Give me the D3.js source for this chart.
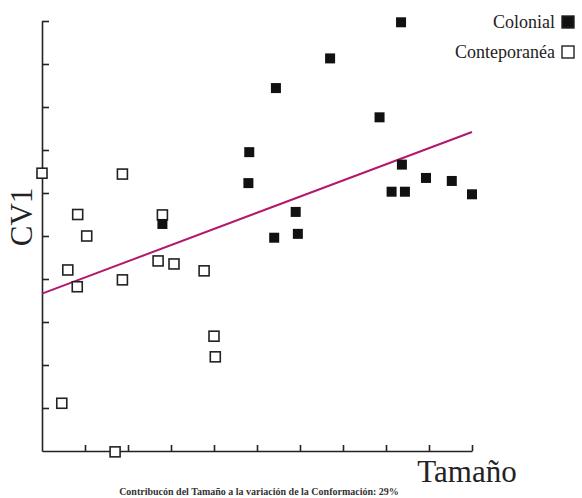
<!DOCTYPE html>
<html>
<head>
<meta charset="utf-8">
<script src="https://d3js.org/d3.v7.min.js"></script>
<style>
    body { margin: 0; background: #fff; }
    text { font-family: "Liberation Serif", "DejaVu Serif", serif; fill: #222; }
</style>
</head>
<body>
<svg id="chart" width="582" height="498"></svg>
<script>
    // values (axis units 0..10)
    var colonialX = [8.35, 6.7, 5.44, 7.85, 4.82, 4.8, 8.37, 8.93, 9.53, 10.0, 8.13, 8.44, 5.9, 5.95, 5.4, 2.8];
    var colonialY = [9.97, 9.13, 8.44, 7.76, 6.95, 6.23, 6.66, 6.35, 6.28, 5.97, 6.03, 6.03, 5.56, 5.05, 4.96, 5.28];
    var contempX = [0.0, 1.87, 0.83, 1.04, 2.8, 0.6, 0.82, 1.87, 2.7, 3.07, 3.77, 4.0, 4.03, 0.46, 1.7];
    var contempY = [6.46, 6.44, 5.5, 5.0, 5.49, 4.21, 3.82, 3.98, 4.42, 4.35, 4.19, 2.67, 2.19, 1.11, -0.02];
    var trendX = [0, 10];
    var trendY = [3.66, 7.42];
    var tickVals = [1, 2, 3, 4, 5, 6, 7, 8, 9, 10];
    var legendLabels = ["Colonial", "Conteporanéa"];

    var svg = d3.select("#chart");
    var x = d3.scaleLinear().domain([0, 10]).range([42, 472]);
    var y = d3.scaleLinear().domain([0, 10]).range([451, 21]);

    var xAxis = svg.append("g")
        .attr("transform", "translate(0,451)")
        .call(d3.axisBottom(x).tickValues(tickVals).tickSizeInner(-6).tickSizeOuter(0).tickFormat(""));
    var yAxis = svg.append("g")
        .attr("transform", "translate(42,0)")
        .call(d3.axisLeft(y).tickValues(tickVals).tickSizeInner(-7).tickSizeOuter(0).tickFormat(""));
    svg.selectAll(".domain, .tick line").attr("stroke", "#222").attr("stroke-width", 1.6);

    // regression line
    svg.append("line")
        .attr("x1", x(trendX[0])).attr("y1", y(trendY[0]))
        .attr("x2", x(trendX[1])).attr("y2", y(trendY[1]))
        .attr("stroke", "#b3186b").attr("stroke-width", 2);

    var s = 10;
    svg.append("g").selectAll("rect").data(contempX).enter().append("rect")
        .attr("x", function (d) { return x(d) - s / 2; })
        .attr("y", function (d, i) { return y(contempY[i]) - s / 2; })
        .attr("width", s).attr("height", s)
        .attr("fill", "#fff").attr("stroke", "#222").attr("stroke-width", 1.6);

    svg.append("g").selectAll("rect").data(colonialX).enter().append("rect")
        .attr("x", function (d) { return x(d) - s / 2; })
        .attr("y", function (d, i) { return y(colonialY[i]) - s / 2; })
        .attr("width", s).attr("height", s)
        .attr("fill", "#111");

    // legend
    var leg = svg.append("g").selectAll("g").data(legendLabels).enter().append("g")
        .attr("transform", function (d, i) { return "translate(0," + (22 + i * 30) + ")"; });
    leg.append("text")
        .attr("x", 555).attr("y", 6)
        .attr("text-anchor", "end")
        .style("font-size", "18px")
        .text(function (d) { return d; });
    leg.append("rect")
        .attr("x", 562).attr("y", -6).attr("width", 12).attr("height", 12)
        .attr("fill", function (d, i) { return i == 0 ? "#111" : "#fff"; })
        .attr("stroke", "#222").attr("stroke-width", 1.4);

    // axis titles
    svg.append("text")
        .attr("transform", "translate(32,217) rotate(-90)")
        .attr("text-anchor", "middle")
        .style("font-size", "31px")
        .text("CV1");
    svg.append("text")
        .attr("x", 467).attr("y", 482)
        .attr("text-anchor", "middle")
        .style("font-size", "31px")
        .text("Tamaño");
    svg.append("text")
        .attr("x", 259).attr("y", 495)
        .attr("text-anchor", "middle")
        .style("font-size", "10px")
        .style("font-weight", "bold")
        .style("fill", "#333")
        .text("Contribucón del Tamaño a la variación de la Conformación: 29%");
</script>
</body>
</html>
